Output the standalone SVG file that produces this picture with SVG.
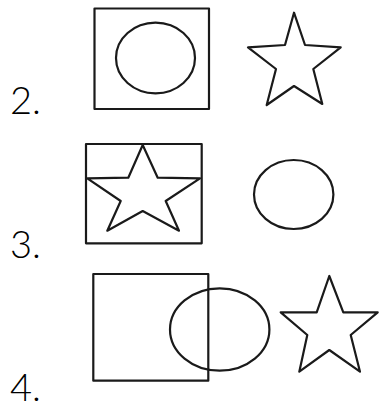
<svg xmlns="http://www.w3.org/2000/svg" width="381" height="412" viewBox="0 0 381 412">
<style>
.s{fill:none;stroke:#1a1a1a;stroke-width:2.2;stroke-linejoin:round}
.l{font-family:Lato,"Noto Sans",sans-serif;font-size:38px;font-weight:300;fill:#000}
</style>
<rect width="381" height="412" fill="#fff"/>
<g id="row2">
<text class="l" x="10" y="114">2.</text>
<rect class="s" x="94.5" y="8.5" width="114.5" height="100.5"/>
<ellipse class="s" cx="155.5" cy="58" rx="39.5" ry="35.3"/>
<polygon class="s" points="294,12.7 305,45 340.7,47.3 313.3,69 322.3,104 294,86 266.7,105 276,69 248,47.3 285,45"/>
</g>
<g id="row3">
<text class="l" x="10" y="257.5">3.</text>
<rect class="s" x="86" y="144" width="115.7" height="99.3"/>
<polygon class="s" points="142.7,145 157.7,177.7 200,178.3 165.7,201 179,230.7 142.7,211 107.3,230.7 120.7,201 87.3,178.3 128.3,177.7"/>
<ellipse class="s" cx="293.7" cy="194.5" rx="39.7" ry="34.5"/>
</g>
<g id="row4">
<text class="l" x="10" y="400.5">4.</text>
<rect class="s" x="93.3" y="274" width="115" height="106.7"/>
<ellipse class="s" cx="219.7" cy="329.5" rx="49.7" ry="41.2"/>
<polygon class="s" points="329.3,276 343.3,312.3 377.7,312.3 350.7,335 360,371.7 329.3,350 299.3,371.7 307.3,335 280.7,312.3 316.7,312.3"/>
</g>
</svg>
